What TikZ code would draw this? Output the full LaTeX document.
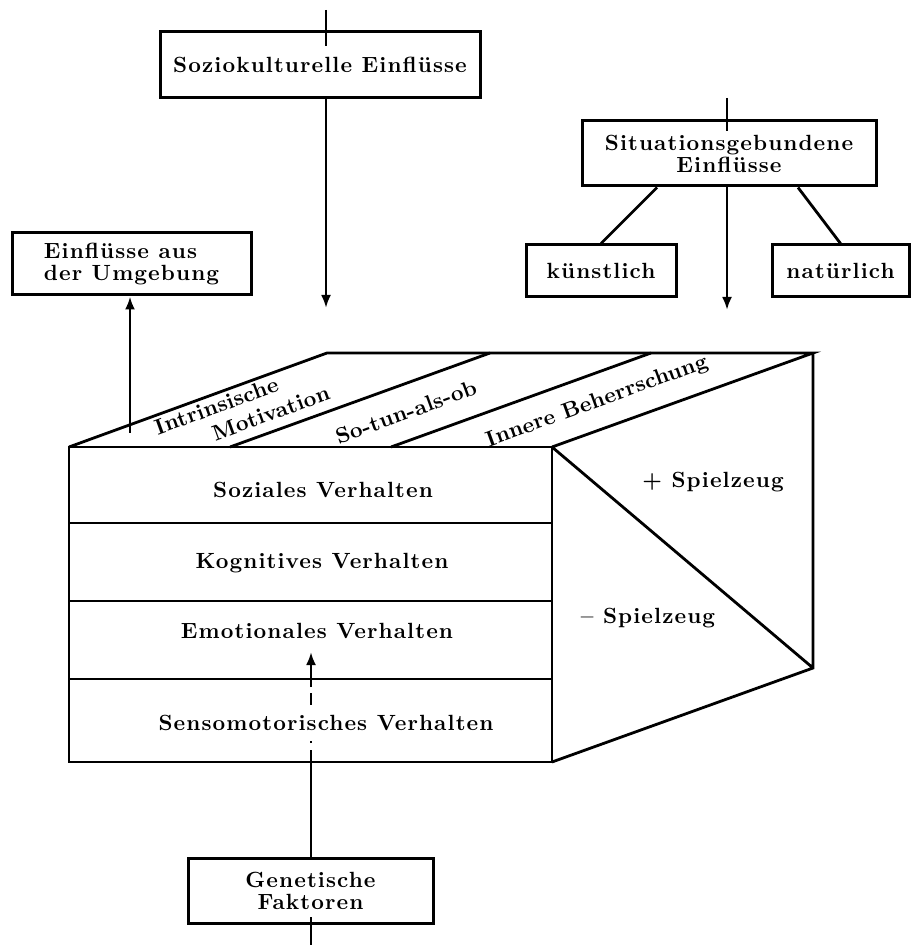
\documentclass[tikz,border=0pt]{standalone}
\usepackage{fontspec}
\newfontfamily\boxfont{lmroman10-bold.otf}[LetterSpace=5]
\newfontfamily\facefont{lmroman10-bold.otf}[LetterSpace=1]
\usetikzlibrary{arrows.meta}

\begin{document}
\begin{tikzpicture}[x=0.5pt,y=-0.5pt,line width=1.4pt,
        box/.style={draw,line width=1.5pt,align=center,inner sep=0pt,font=\fontsize{11}{11}\boxfont},
        lab/.style={font=\fontsize{11}{11}\boxfont},
        face/.style={rotate=20,inner sep=0pt,font=\fontsize{11}{12.5}\facefont},
        arr/.style={-{Latex[length=6.5pt,width=5pt]}}]
            \useasboundingbox (0,0) rectangle (911,945);
            \node[box,minimum width=160pt,minimum height=33pt] (sozio) at (320,65) {Soziokulturelle Einflüsse};
            \node[box,minimum width=147pt,minimum height=32.5pt] (situ) at (729,153.5) {Situationsgebundene\\Einflüsse};
            \node[box,minimum width=75pt,minimum height=26pt] (kuenst) at (601,271) {künstlich};
            \node[box,minimum width=68.5pt,minimum height=26pt] (natur) at (840.5,271) {natürlich};
            \node[box,minimum width=119.5pt,minimum height=31pt,align=left] (umgeb) at (131.5,264) {Einflüsse aus\\der Umgebung};
            \node[box,minimum width=122.5pt,minimum height=32.5pt] (genet) at (310.5,890.5) {Genetische\\Faktoren};
            \coordinate (a) at (69,447);
            \coordinate (b) at (552,447);
            \coordinate (c) at (552,762);
            \coordinate (e) at (327,353);
            \coordinate (f) at (813,353);
            \coordinate (g) at (813,668);
            \draw (a) rectangle (c);
            \draw (a) -- (e) -- (f) -- (b) (f) -- (g) -- (c) (b) -- (g);
            \foreach \y in {523,601,679}
                \draw (69,\y) -- (552,\y);
            \foreach \x in {230,391}
                \draw (\x,447) -- ++(260,-94);
            \node[lab] (sozial) at (323,490) {Soziales Verhalten};
            \node[lab] (kognit) at (322,563) {Kognitives Verhalten};
            \node[lab] (emot) at (317,631) {Emotionales Verhalten};
            \node[lab] (plus) at (713,482) {+ Spielzeug};
            \node[lab] (minus) at (648,618) {– Spielzeug};
            \node[face,align=left] (intr) at (242,410) {Intrinsische\\\hspace*{26pt}Motivation};
            \node[face] (sotun) at (406,412) {So-tun-als-ob};
            \node[face] (innere) at (597,402) {Innere Beherrschung};
            \coordinate (soztop) at (326,10);
            \coordinate (sozend) at (326,308);
            \draw (soztop) -- ([yshift=-8pt]sozio.north -| soztop);
            \draw[arr] (sozio.south -| sozend) -- (sozend);
            \coordinate (situtop) at (727,98);
            \coordinate (situend) at (727,310);
            \draw (situtop) -- ([yshift=-6pt]situ.north -| situtop);
            \draw[arr] (situ.south -| situend) -- (situend);
            \draw ([xshift=-36pt]situ.south) -- (kuenst.north);
            \draw ([xshift=34.5pt]situ.south) -- (natur.north);
            \coordinate (umgstart) at (130,433);
            \draw[arr] (umgstart) -- (umgeb.south -| umgstart);
            \coordinate (genbot) at (311,945);
            \coordinate (dashend) at (311,687);
            \coordinate (emotin) at (311,652);
            \draw (genbot) -- ([yshift=4pt]genet.south -| genbot);
            \draw (genet.north -| genbot) -- (genbot |- c);
            \draw[dash pattern=on 6pt off 3.5pt] (genbot |- c) -- (dashend);
            \draw[arr] (dashend) -- (emotin);
            \node[lab,fill=white,inner xsep=1pt,inner ysep=5pt] (senso) at (326,723) {Sensomotorisches Verhalten};
        \end{tikzpicture}
\end{document}
